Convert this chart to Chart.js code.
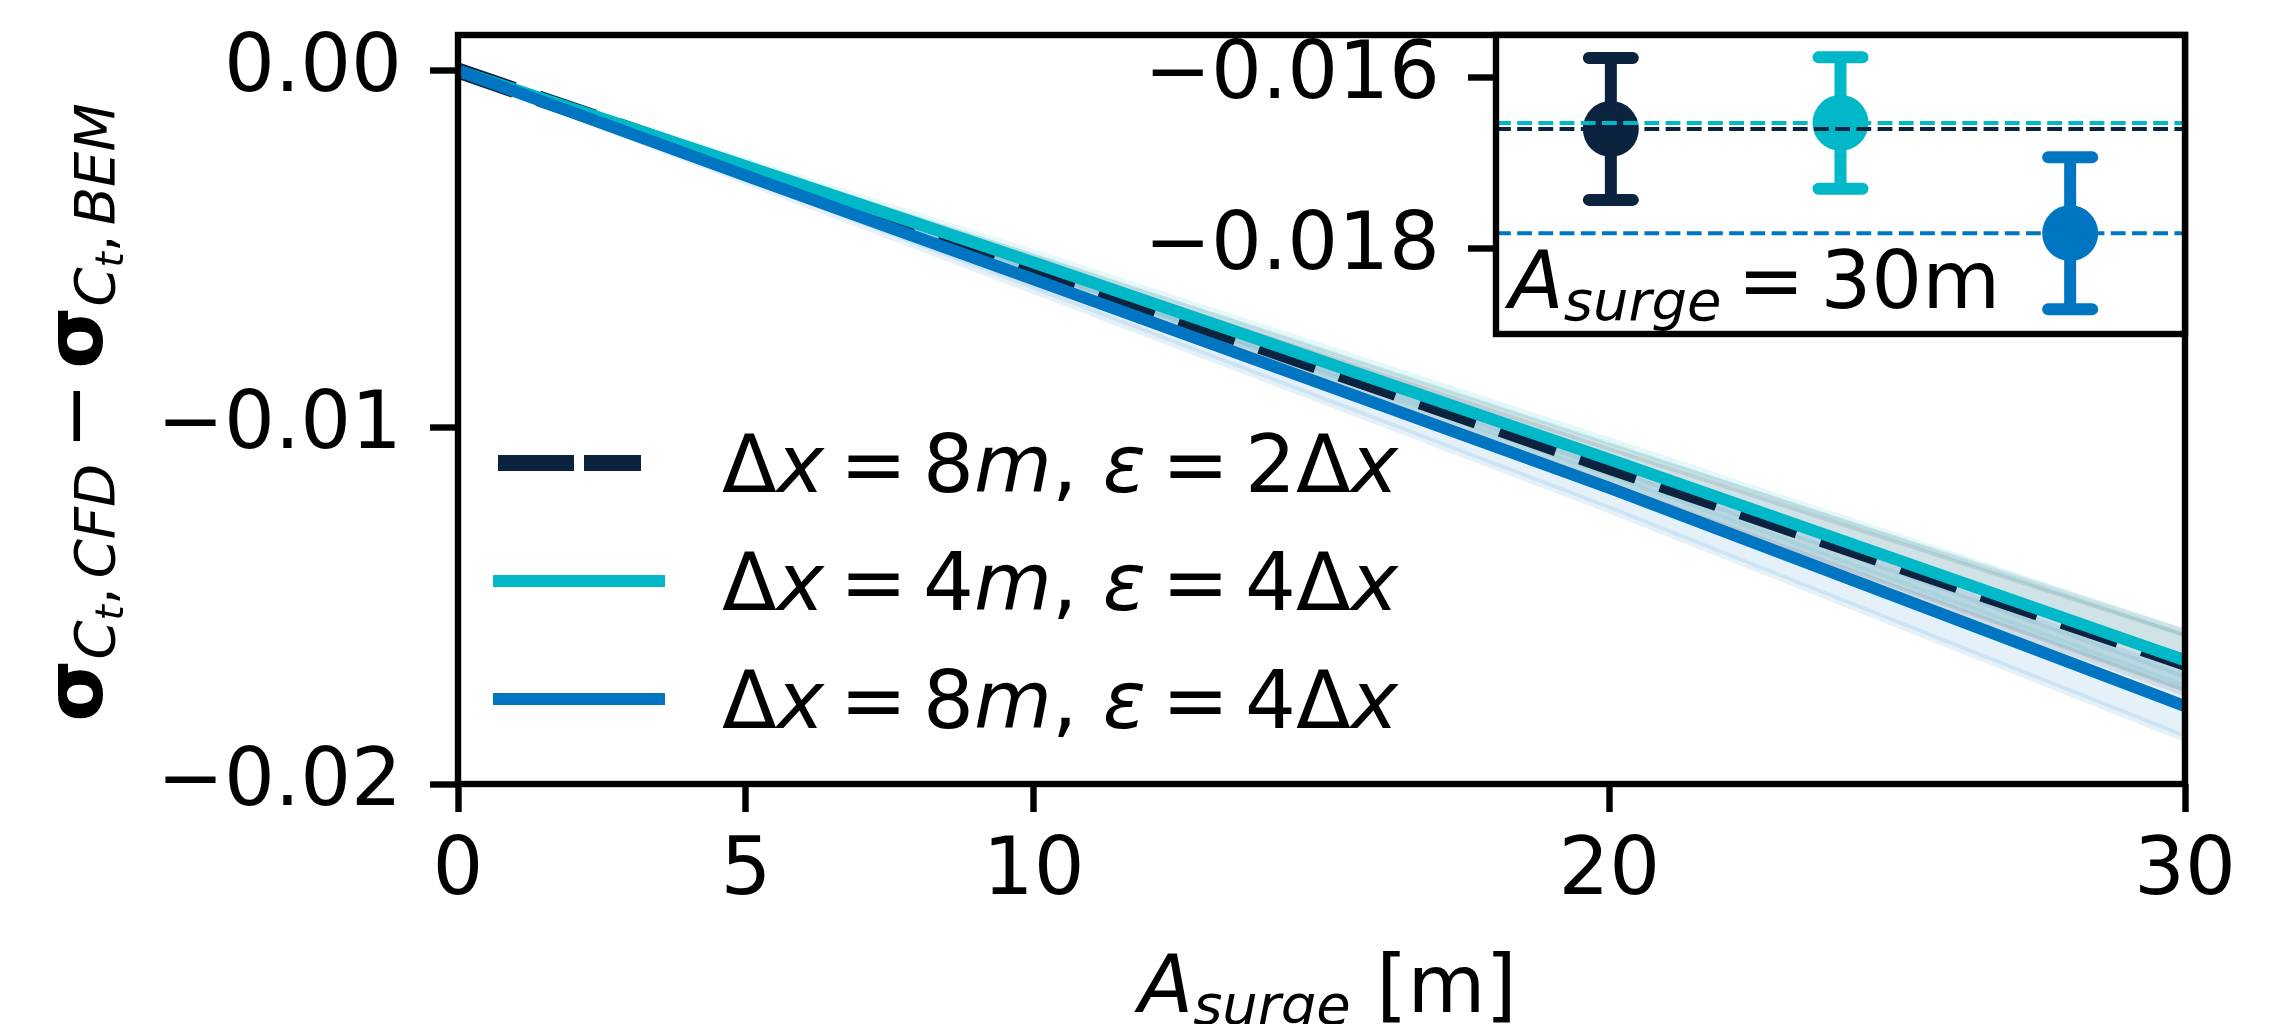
<!DOCTYPE html>
<html>
<head>
<meta charset="utf-8">
<script src="https://cdn.jsdelivr.net/npm/chart.js@4/dist/chart.umd.min.js"></script>
<style>
  html, body { margin: 0; padding: 0; background: #fff; }
  #wrap { position: relative; width: 2290px; height: 1024px; overflow: hidden; background: #fff; }
  #main { position: absolute; left: 0; top: 0; }
  #inset { position: absolute; left: 1100px; top: 0; }
</style>
</head>
<body>
<div id="wrap">
  <canvas id="main" width="2290" height="1024"></canvas>
  <canvas id="inset" width="1190" height="420"></canvas>
</div>
<script>
// ---- data ---------------------------------------------------------------
// surge amplitudes [m]
const amplitudes = [0, 5, 10, 20, 30];
const xTickValues = [0, 5, 10, 20, 30];
const yTickValues = [0, -0.01, -0.02];
const insetTickValues = [-0.016, -0.018];

// grid spacing [m] and smearing factor for each case
const caseDx = [8, 4, 8];
const caseEps = [2, 4, 4];

// sigma(Ct, CFD) - sigma(Ct, BEM), mean and band bounds per case
const meanDx8Eps2 = [0, -0.00277, -0.00553, -0.01110, -0.01660];
const lowDx8Eps2  = [0, -0.00291, -0.00581, -0.01165, -0.01743];
const highDx8Eps2 = [0, -0.00263, -0.00525, -0.01055, -0.01577];

const meanDx4Eps4 = [0, -0.00268, -0.00538, -0.01090, -0.01653];
const lowDx4Eps4  = [0, -0.00281, -0.00564, -0.01141, -0.01730];
const highDx4Eps4 = [0, -0.00255, -0.00512, -0.01039, -0.01576];

const meanDx8Eps4 = [0, -0.00294, -0.00585, -0.01170, -0.01782];
const lowDx8Eps4  = [0, -0.00309, -0.00615, -0.01230, -0.01871];
const highDx8Eps4 = [0, -0.00279, -0.00555, -0.01110, -0.01693];

// values at A_surge = 30 m (inset)
const insetPositions = [0, 1, 2];
const insetMeans  = [-0.01660, -0.01653, -0.01782];
const insetErrors = [0.00083, 0.00077, 0.00089];

// ---- style --------------------------------------------------------------
const palette = ['#0C2340', '#00B8C8', '#0076C2'];
const bandFill = ['rgba(12,35,64,0.1)', 'rgba(0,184,200,0.1)', 'rgba(0,118,194,0.1)'];
const FONT = '"DejaVu Sans"';
const PT = 8; // pixels per point

const means = [meanDx8Eps2, meanDx4Eps4, meanDx8Eps4];
const lows = [lowDx8Eps2, lowDx4Eps4, lowDx8Eps4];
const highs = [highDx8Eps2, highDx4Eps4, highDx8Eps4];

const toPoints = arr => amplitudes.map((a, i) => ({ x: a, y: arr[i] }));
const fmtMinus = (v, d) => (v < 0 ? '\u2212' : '') + Math.abs(v).toFixed(d);

// draws a sequence of text pieces (mixed italic / sub-scripted) left to right
function pieceFont(p) {
  return (p.it ? 'italic ' : '') + (p.bold ? 'bold ' : '') + (p.size || 80) + 'px ' + FONT;
}
function runsWidth(ctx, runs) {
  let w = 0;
  for (const p of runs) {
    if (p.sp !== undefined) { w += p.sp; continue; }
    ctx.font = pieceFont(p);
    w += ctx.measureText(p.t).width;
  }
  return w;
}
function drawRuns(ctx, runs, x, y) {
  let cx = x;
  ctx.textBaseline = 'alphabetic';
  ctx.textAlign = 'left';
  for (const p of runs) {
    if (p.sp !== undefined) { cx += p.sp; continue; }
    ctx.font = pieceFont(p);
    ctx.fillText(p.t, cx, y + (p.dy || 0));
    cx += ctx.measureText(p.t).width;
  }
  return cx - x;
}

const REL = 16; // space around relations in math text
function caseRuns(i) {
  return [
    { t: 'Δ' }, { t: 'x', it: true }, { sp: REL }, { t: '=' }, { sp: REL },
    { t: String(caseDx[i]) }, { t: 'm', it: true }, { t: ', ' },
    { t: 'ε', it: true }, { sp: REL }, { t: '=' }, { sp: REL },
    { t: String(caseEps[i]) }, { t: 'Δ' }, { t: 'x', it: true }
  ];
}

// ---- main axes ----------------------------------------------------------
const mainDatasets = [];
for (let k = 0; k < 3; k++) {
  mainDatasets.push({
    data: toPoints(lows[k]), borderColor: bandFill[k], borderWidth: PT,
    backgroundColor: bandFill[k], fill: false, pointRadius: 0, order: 10
  });
  mainDatasets.push({
    data: toPoints(highs[k]), borderColor: bandFill[k], borderWidth: PT,
    backgroundColor: bandFill[k], fill: '-1', pointRadius: 0, order: 10
  });
}
mainDatasets.push({
  label: 'dx8eps2', data: toPoints(meanDx8Eps2), borderColor: palette[0],
  borderWidth: 2 * PT, borderDash: [7.4 * PT, 3.2 * PT], pointRadius: 0, fill: false, order: 3
});
mainDatasets.push({
  label: 'dx4eps4', data: toPoints(meanDx4Eps4), borderColor: palette[1],
  borderWidth: 1.5 * PT, pointRadius: 0, fill: false, order: 2
});
mainDatasets.push({
  label: 'dx8eps4', data: toPoints(meanDx8Eps4), borderColor: palette[2],
  borderWidth: 1.5 * PT, pointRadius: 0, fill: false, order: 1
});

const mainDecor = {
  id: 'mainDecor',
  afterDatasetsDraw(chart) {
    const { ctx, chartArea: a } = chart;
    ctx.save();
    ctx.strokeStyle = '#000';
    ctx.lineWidth = 0.8 * PT;
    ctx.lineJoin = 'miter';
    ctx.strokeRect(a.left, a.top, a.right - a.left, a.bottom - a.top);
    ctx.restore();
  },
  afterDraw(chart) {
    const { ctx, chartArea: a } = chart;
    ctx.save();
    ctx.fillStyle = '#000';

    // legend
    const rowY = [463, 581, 699];
    const hx0 = 499, hx1 = 659;
    for (let i = 0; i < 3; i++) {
      ctx.save();
      ctx.strokeStyle = palette[i];
      ctx.beginPath();
      if (i === 0) {
        ctx.lineWidth = 2 * PT;
        ctx.lineCap = 'butt';
        ctx.setLineDash([76, 10, 57, 40]);
        ctx.moveTo(hx0 - 1, rowY[i]);
      } else {
        ctx.lineWidth = 1.5 * PT;
        ctx.lineCap = 'square';
        ctx.moveTo(hx0, rowY[i]);
      }
      ctx.lineTo(hx1, rowY[i]);
      ctx.stroke();
      ctx.restore();
      drawRuns(ctx, caseRuns(i), 722, rowY[i] + 29);
    }

    // x axis title
    const xRuns = [
      { t: 'A', it: true }, { t: 'surge', it: true, size: 56, dy: 12 }, { t: ' [m]' }
    ];
    const xw = runsWidth(ctx, xRuns);
    drawRuns(ctx, xRuns, (a.left + a.right) / 2 - xw / 2 + 6, 1012);

    // y axis title (rotated)
    const yRuns = [
      { t: 'σ', bold: true }, { t: 'C', it: true, size: 56, dy: 12 },
      { t: 't', it: true, size: 39, dy: 21 }, { t: ',', size: 56, dy: 12 }, { sp: 9 },
      { t: 'CFD', it: true, size: 56, dy: 12 },
      { sp: 14 }, { t: '\u2212' }, { sp: 14 },
      { t: 'σ', bold: true }, { t: 'C', it: true, size: 56, dy: 12 },
      { t: 't', it: true, size: 39, dy: 21 }, { t: ',', size: 56, dy: 12 }, { sp: 9 },
      { t: 'BEM', it: true, size: 56, dy: 12 }
    ];
    const yw = runsWidth(ctx, yRuns);
    const midY = (a.top + a.bottom) / 2 + 3;
    ctx.translate(102, midY + yw / 2);
    ctx.rotate(-Math.PI / 2);
    drawRuns(ctx, yRuns, 0, 0);
    ctx.restore();
  }
};

new Chart(document.getElementById('main'), {
  type: 'line',
  data: { datasets: mainDatasets },
  options: {
    responsive: false,
    animation: false,
    devicePixelRatio: 1,
    layout: { padding: { left: 0, top: 35, right: 105, bottom: 0 } },
    elements: { line: { tension: 0 } },
    plugins: { legend: { display: false }, tooltip: { enabled: false } },
    scales: {
      x: {
        type: 'linear', min: 0, max: 30,
        afterBuildTicks: s => { s.ticks = xTickValues.map(v => ({ value: v })); },
        afterFit: s => { s.height = 240; s.paddingLeft = 0; s.paddingRight = 0; },
        ticks: {
          color: '#000', font: { family: FONT, size: 80 }, padding: 13,
          maxRotation: 0, autoSkip: false, callback: v => String(v)
        },
        grid: { drawOnChartArea: false, drawTicks: true, tickLength: 3.5 * PT, tickWidth: 0.8 * PT, tickColor: '#000' },
        border: { display: false }
      },
      y: {
        type: 'linear', min: -0.02, max: 0.001,
        afterBuildTicks: s => { s.ticks = yTickValues.map(v => ({ value: v })); },
        afterFit: s => { s.width = 458; s.paddingTop = 0; s.paddingBottom = 0; },
        ticks: {
          color: '#000', font: { family: FONT, size: 80 }, padding: 28,
          autoSkip: false, callback: v => fmtMinus(v, 2)
        },
        grid: { drawOnChartArea: false, drawTicks: true, tickLength: 3.5 * PT, tickWidth: 0.8 * PT, tickColor: '#000' },
        border: { display: false }
      }
    }
  },
  plugins: [mainDecor]
});

// ---- inset axes ---------------------------------------------------------
const insetDatasets = [];
insetDatasets.push({
  type: 'scatter',
  data: insetPositions.map((p, i) => ({ x: p, y: insetMeans[i] })),
  pointRadius: 28, pointBorderWidth: 0,
  pointBackgroundColor: palette.slice(), backgroundColor: palette.slice(),
  showLine: false, order: 5
});
for (let k = 0; k < 3; k++) {
  insetDatasets.push({
    type: 'line',
    data: [{ x: -0.5, y: insetMeans[k] }, { x: 2.5, y: insetMeans[k] }],
    borderColor: palette[k], borderWidth: 0.5 * PT,
    borderDash: [3.7 * 0.5 * PT, 1.6 * 0.5 * PT], pointRadius: 0, fill: false, order: 1
  });
}

const insetDecor = {
  id: 'insetDecor',
  beforeDatasetsDraw(chart) {
    const { ctx, chartArea: a, scales } = chart;
    ctx.save();
    ctx.fillStyle = '#fff';
    ctx.fillRect(a.left, a.top, a.right - a.left, a.bottom - a.top);
    // error bars
    for (let i = 0; i < insetPositions.length; i++) {
      const px = scales.x.getPixelForValue(insetPositions[i]);
      const yTop = scales.y.getPixelForValue(insetMeans[i] + insetErrors[i]);
      const yBot = scales.y.getPixelForValue(insetMeans[i] - insetErrors[i]);
      ctx.strokeStyle = palette[i];
      ctx.lineWidth = 1.5 * PT;
      ctx.lineCap = 'butt';
      ctx.beginPath();
      ctx.moveTo(px, yTop); ctx.lineTo(px, yBot);
      ctx.stroke();
      ctx.lineCap = 'round';
      ctx.beginPath();
      ctx.moveTo(px - 22, yTop); ctx.lineTo(px + 22, yTop);
      ctx.moveTo(px - 22, yBot); ctx.lineTo(px + 22, yBot);
      ctx.stroke();
    }
    ctx.restore();
  },
  afterDatasetsDraw(chart) {
    const { ctx, chartArea: a } = chart;
    ctx.save();
    ctx.strokeStyle = '#000';
    ctx.lineWidth = 0.8 * PT;
    ctx.strokeRect(a.left, a.top, a.right - a.left, a.bottom - a.top);
    ctx.fillStyle = '#000';
    const runs = [
      { t: 'A', it: true }, { t: 'surge', it: true, size: 56, dy: 12 },
      { sp: REL }, { t: '=' }, { sp: REL }, { t: String(amplitudes[amplitudes.length - 1]) + 'm' }
    ];
    drawRuns(ctx, runs, a.left + 13, a.bottom - 26);
    ctx.restore();
  }
};

new Chart(document.getElementById('inset'), {
  type: 'scatter',
  data: { datasets: insetDatasets },
  options: {
    responsive: false,
    animation: false,
    devicePixelRatio: 1,
    layout: { padding: { left: 0, top: 35, right: 105, bottom: 86 } },
    plugins: { legend: { display: false }, tooltip: { enabled: false } },
    scales: {
      x: { type: 'linear', min: -0.5, max: 2.5, display: false },
      y: {
        type: 'linear', min: -0.019, max: -0.0155,
        afterBuildTicks: s => { s.ticks = insetTickValues.map(v => ({ value: v })); },
        afterFit: s => { s.width = 396; s.paddingTop = 0; s.paddingBottom = 0; },
        ticks: {
          color: '#000', font: { family: FONT, size: 80 }, padding: 28,
          autoSkip: false, callback: v => fmtMinus(v, 3)
        },
        grid: { drawOnChartArea: false, drawTicks: true, tickLength: 3.5 * PT, tickWidth: 0.8 * PT, tickColor: '#000' },
        border: { display: false }
      }
    }
  },
  plugins: [insetDecor]
});
</script>
</body>
</html>
